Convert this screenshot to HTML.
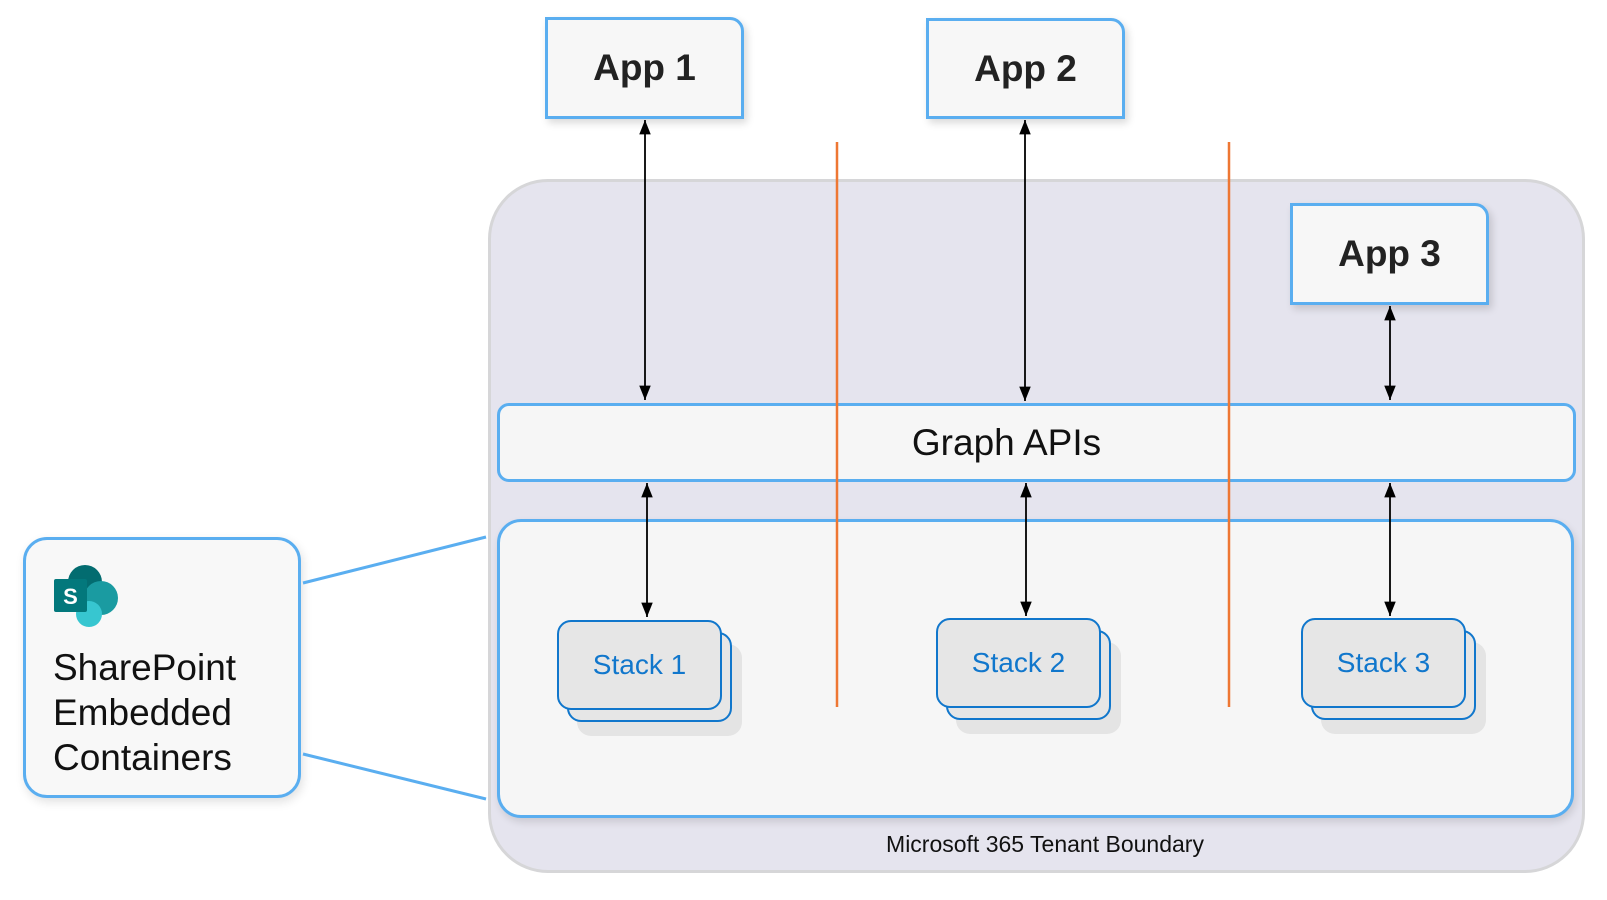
<!DOCTYPE html>
<html><head><meta charset="utf-8"><style>
body{margin:0;width:1607px;height:900px;background:#fff;position:relative;overflow:hidden;font-family:"Segoe UI","Liberation Sans",sans-serif}
.a{position:absolute;box-sizing:border-box}
.app{border:3px solid #5aaef0;background:#f7f7f7;border-top-right-radius:14px;display:flex;align-items:center;justify-content:center;font-size:37px;font-weight:bold;color:#222;box-shadow:3px 4px 8px rgba(0,0,0,.15)}
.st{border:2px solid #1177cc;border-radius:14px;background:#e6e6e6}
.stt{display:flex;align-items:center;justify-content:center;color:#1177cc;font-size:28px}
</style></head><body>
<div class="a" style="left:488px;top:179px;width:1097px;height:694px;background:#e5e4ee;border:3px solid #d6d6d8;border-radius:60px"></div>
<div class="a" style="left:497px;top:519px;width:1077px;height:299px;background:#f6f6f6;border:3px solid #5aaef0;border-radius:24px;box-shadow:2px 4px 8px rgba(0,0,0,.12)"></div>
<div class="a" style="left:497px;top:403px;width:1079px;height:79px;background:#f6f6f6;border:3px solid #5aaef0;border-radius:12px;display:flex;align-items:center;justify-content:center;font-size:37px;color:#111;padding-right:60px">Graph APIs</div>
<div class="a app" style="left:545px;top:17px;width:199px;height:102px">App 1</div>
<div class="a app" style="left:926px;top:18px;width:199px;height:101px">App 2</div>
<div class="a app" style="left:1290px;top:203px;width:199px;height:102px">App 3</div>

<div class="a" style="left:577px;top:644px;width:165px;height:92px;background:#e4e4e4;border-radius:14px"></div>
<div class="a st" style="left:567px;top:632px;width:165px;height:90px"></div>
<div class="a st stt" style="left:557px;top:620px;width:165px;height:90px">Stack 1</div>
<div class="a" style="left:956px;top:642px;width:165px;height:92px;background:#e4e4e4;border-radius:14px"></div>
<div class="a st" style="left:946px;top:630px;width:165px;height:90px"></div>
<div class="a st stt" style="left:936px;top:618px;width:165px;height:90px">Stack 2</div>
<div class="a" style="left:1321px;top:642px;width:165px;height:92px;background:#e4e4e4;border-radius:14px"></div>
<div class="a st" style="left:1311px;top:630px;width:165px;height:90px"></div>
<div class="a st stt" style="left:1301px;top:618px;width:165px;height:90px">Stack 3</div>

<div class="a" style="left:23px;top:537px;width:278px;height:261px;background:#f8f8f8;border:3px solid #5aaef0;border-radius:24px;box-shadow:2px 4px 10px rgba(0,0,0,.12)"></div>
<div class="a" style="left:53px;top:645px;font-size:37px;line-height:45px;color:#111">SharePoint<br>Embedded<br>Containers</div>
<svg class="a" style="left:0;top:0" width="1607" height="900">
<defs><marker id="ar" viewBox="0 0 10 10" refX="10" refY="5" markerWidth="8" markerHeight="8" orient="auto-start-reverse"><path d="M0,1 L10,5 L0,9z" fill="#000"/></marker></defs>
<line x1="837" y1="142" x2="837" y2="707" stroke="#ee7733" stroke-width="2.5"/>
<line x1="1229" y1="142" x2="1229" y2="707" stroke="#ee7733" stroke-width="2.5"/>
<g stroke="#000" stroke-width="1.8" marker-start="url(#ar)" marker-end="url(#ar)">
<line x1="645" y1="120" x2="645" y2="400"/>
<line x1="1025" y1="120" x2="1025" y2="401"/>
<line x1="1390" y1="306" x2="1390" y2="400"/>
<line x1="647" y1="483" x2="647" y2="617"/>
<line x1="1026" y1="483" x2="1026" y2="616"/>
<line x1="1390" y1="483" x2="1390" y2="616"/>
</g>
<line x1="303" y1="583" x2="486" y2="537" stroke="#5aaef0" stroke-width="3"/>
<line x1="303" y1="754" x2="486" y2="799" stroke="#5aaef0" stroke-width="3"/>
<circle cx="85" cy="582" r="17" fill="#036c70"/>
<circle cx="101" cy="598" r="17" fill="#1a9ba1"/>
<circle cx="89" cy="614" r="13" fill="#37c6d0"/>
<rect x="54" y="579" width="33" height="33" rx="2" fill="#03787c"/>
<text x="70.5" y="604" font-size="22" font-weight="bold" fill="#fff" text-anchor="middle" font-family="Liberation Sans,sans-serif">S</text>
</svg>
<div class="a" style="left:795px;top:831px;width:500px;text-align:center;font-size:23px;color:#111">Microsoft 365 Tenant Boundary</div>
</body></html>
